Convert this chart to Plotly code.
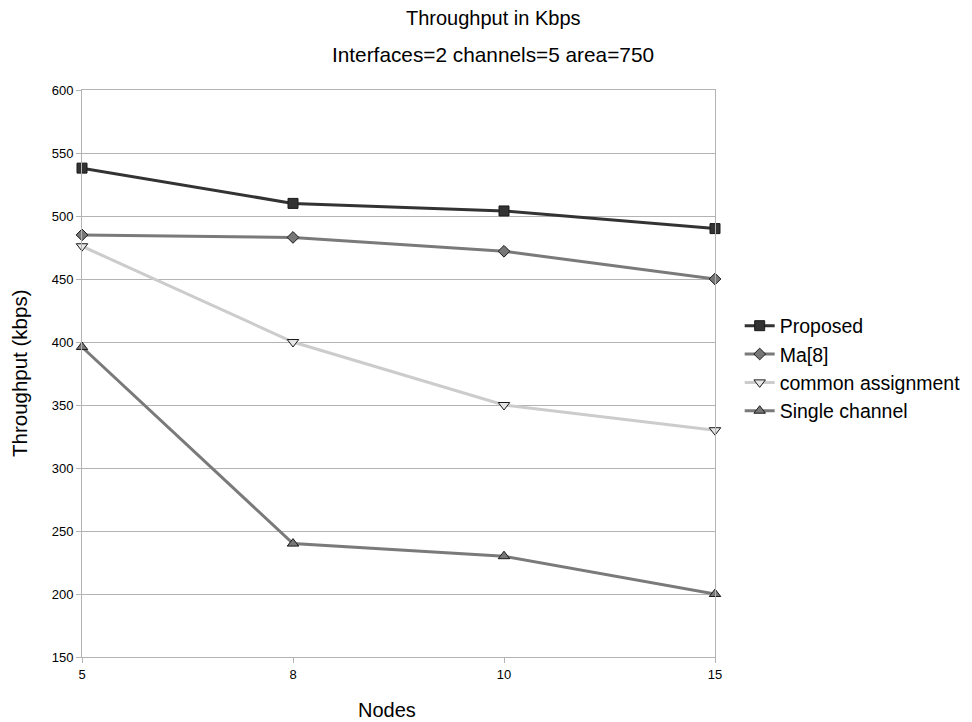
import plotly.graph_objects as go

nodes = ["5", "8", "10", "15"]
proposed = [538, 510, 504, 490]
ma8 = [485, 483, 472, 450]
common = [476, 400, 350, 330]
single = [396, 240, 230, 200]

series = [
    ("Proposed", proposed, "#333333", "#333333", "square", 10),
    ("Ma[8]", ma8, "#7a7a7a", "#777777", "diamond", 9),
    ("common assignment", common, "#cccccc", "#e6e6e6", "triangle-down", 10),
    ("Single channel", single, "#7a7a7a", "#777777", "triangle-up", 10),
]

fig = go.Figure()
for name, vals, col, mcol, sym, sz in series:
    fig.add_trace(go.Scatter(
        x=nodes, y=vals, name=name, mode="lines+markers", cliponaxis=False,
        line=dict(color=col, width=3),
        marker=dict(symbol=sym, size=sz, color=mcol,
                    line=dict(color="#1a1a1a", width=1)),
    ))

W, H = 972, 722
L, R, T, B = 82, 257, 90, 65
pw, ph = W - L - R, H - T - B

def px_x(x):
    return (x - L) / pw

def px_y(y):
    return (H - B - y) / ph

fig.update_layout(
    width=W, height=H,
    margin=dict(l=L, r=R, t=T, b=B, autoexpand=False),
    paper_bgcolor="white", plot_bgcolor="white",
    font=dict(family="Liberation Sans, Arial, sans-serif", color="#000000"),
    showlegend=True,
    legend=dict(x=1.039, xanchor="left", y=0.5 + 5 / ph, yanchor="middle",
                font=dict(size=19.5), tracegroupgap=0, itemwidth=30),
    annotations=[
        dict(text="Throughput in Kbps", x=px_x(493), xref="paper", y=px_y(18), yref="paper",
             yanchor="middle", showarrow=False, font=dict(size=20)),
        dict(text="Interfaces=2 channels=5 area=750", x=px_x(493), xref="paper", y=px_y(55),
             yref="paper", yanchor="middle", showarrow=False, font=dict(size=20.8)),
        dict(text="Nodes", x=px_x(387), xref="paper", y=px_y(710), yref="paper",
             yanchor="middle", showarrow=False, font=dict(size=20)),
        dict(text="Throughput (kbps)", x=px_x(19), xref="paper", y=px_y(373), yref="paper",
             xanchor="center", yanchor="middle", textangle=-90, showarrow=False,
             font=dict(size=20.5)),
    ],
)

fig.update_xaxes(
    type="category", range=[0, 3], automargin=False,
    showgrid=False,
    showline=True, linecolor="#b3b3b3", mirror=True,
    ticks="outside", ticklen=5, tickcolor="#b3b3b3",
    tickfont=dict(size=13),
)
fig.update_yaxes(
    range=[150, 600], dtick=50, automargin=False,
    showgrid=True, gridcolor="#b3b3b3", gridwidth=1,
    showline=True, linecolor="#b3b3b3", mirror=True,
    ticks="outside", ticklen=5, tickcolor="#b3b3b3",
    tickfont=dict(size=13),
    zeroline=False,
)

fig.write_html("out.html")
